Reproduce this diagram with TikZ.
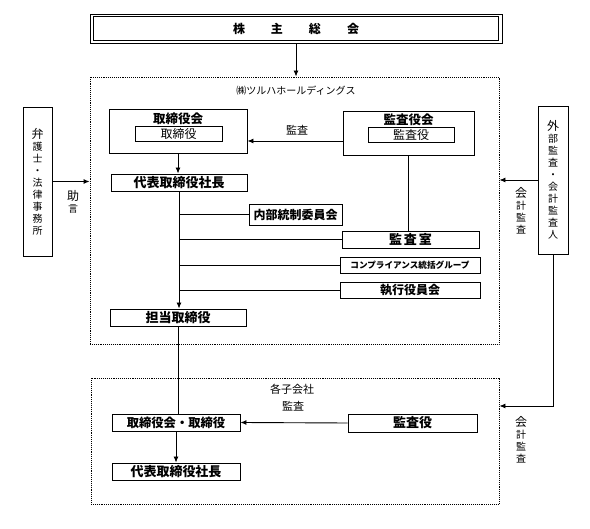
\documentclass[tikz,border=0pt]{standalone}
\usepackage{fontspec}
\usetikzlibrary{arrows.meta}
\newfontfamily\jp{Noto Sans CJK JP}
\newcommand{\fs}[1]{\fontsize{#1}{#1}\selectfont}

\begin{document}
\begin{tikzpicture}[x=1pt,y=-1pt,
  box/.style={draw,line width=0.9pt,inner sep=0pt,font=\jp\bfseries},
  ttl/.style={inner sep=0pt,font=\jp\bfseries},
  lbl/.style={inner sep=0pt,font=\jp,align=center},
  grp/.style={draw,densely dotted,line width=0.9pt,inner sep=0pt},
  arr/.style={draw,line width=0.9pt,-{Latex[length=6pt,width=5pt]}},
  ln/.style={draw,line width=0.9pt}]

  \useasboundingbox (0,0) rectangle (590,529);

  \begin{scope}[every node/.style={grp}]
    \node[minimum width=409,minimum height=267] (hd)  at (294.5,210.5) {};
    \node[minimum width=408,minimum height=126] (sub) at (295,441) {};
  \end{scope}

  \begin{scope}[every node/.style={box}]
    \node[minimum width=412,minimum height=29] (soukai) at (296,28.5)
      {\fs{12}株\hspace{26pt}主\hspace{26pt}総\hspace{26pt}会};

    \node[font=\jp,align=center,minimum width=29,minimum height=149] (bengo) at (37.5,181.5)
      {\fontsize{12}{13}\selectfont 弁\\護\\士\\・\\法\\律\\事\\務\\所};
    \node[font=\jp,align=center,minimum width=30,minimum height=148] (ext) at (553,180)
      {\fontsize{12}{13}\selectfont 外\\部\\監\\査\\・\\会\\計\\監\\査\\人};

    \node[minimum width=138,minimum height=44] (tbk) at (178,131) {};
    \node[font=\jp,minimum width=87,minimum height=15] (tb) at (178.5,133.5) {\fs{12}取締役};
    \node[minimum width=131,minimum height=44] (kyk) at (408.5,133) {};
    \node[font=\jp,minimum width=86,minimum height=15] (ky) at (411,134.5) {\fs{12}監査役};

    \node[minimum width=136,minimum height=17] (daihyo) at (179,182.5) {\fs{13}代表取締役社長};
    \node[minimum width=93,minimum height=21]  (naibu)  at (295.5,214.5) {\fs{12}内部統制委員会};
    \node[minimum width=137,minimum height=17] (kss)    at (410.5,239.5) {\fs{13}監\hspace{2pt}査\hspace{2pt}室};
    \node[minimum width=140,minimum height=16] (comp)   at (410,265) {\fs{8.6}コンプライアンス統括グループ};
    \node[minimum width=140,minimum height=16] (shikko) at (410,290) {\fs{12}執行役員会};
    \node[minimum width=136,minimum height=17] (tantou) at (178,317.5) {\fs{13}担当取締役};

    \node[minimum width=128,minimum height=17] (stb) at (176,422.5) {\fs{12.3}取締役会・取締役};
    \node[minimum width=129,minimum height=18] (sks) at (412.5,423) {\fs{13}監査役};
    \node[minimum width=128,minimum height=17] (sdh) at (176,471.5) {\fs{13}代表取締役社長};
  \end{scope}

  \draw[line width=0.9pt] ([shift={(4pt,-3pt)}]soukai.north west) rectangle ([shift={(-4pt,3pt)}]soukai.south east);

  \node[ttl] (tbkt) at (178,119) {\fs{12.5}取締役会};
  \node[ttl] (kykt) at (408.5,120) {\fs{12.5}監査役会};

  \node[lbl] (hdname)  at (296,91)  {\fs{10}㈱ツルハホールディングス};
  \node[lbl] (subname) at (292,389) {\fs{11}各子会社};
  \node[lbl] (kansa1)  at (297,130) {\fs{11}監査};
  \node[lbl] (kansa2)  at (293,406) {\fs{11}監査};
  \node[lbl] (jogen)   at (73,202)  {\fontsize{12}{13}\selectfont 助\\言};
  \node[lbl] (kaikei1) at (521,211) {\fontsize{12}{13}\selectfont 会\\計\\監\\査};
  \node[lbl] (kaikei2) at (521,440) {\fontsize{12}{13}\selectfont 会\\計\\監\\査};

  \coordinate (kk) at ([yshift=35pt]sub.east);

  \path[arr] (soukai.south) -- (soukai.south |- hd.north);
  \path[arr] (bengo.east) -- (bengo.east -| hd.west);
  \path[arr] (ext.west) -- (ext.west -| hd.east);
  \path[arr] (ext.south) |- (kk);

  \path[arr] ([yshift=-8pt]kyk.west) -- ([yshift=-8pt]kyk.west -| tbk.east);
  \path[arr] (tbk.south) -- (tbk.south |- daihyo.north);
  \path[arr] (daihyo.south) -- (daihyo.south |- tantou.north);
  \path[ln] (kyk.south) -- (kyk.south |- kss.north);

  \path[ln] (daihyo.south |- naibu.west)  -- (naibu.west);
  \path[ln] (daihyo.south |- kss.west)    -- (kss.west);
  \path[ln] (daihyo.south |- comp.west)   -- (comp.west);
  \path[ln] (daihyo.south |- shikko.west) -- (shikko.west);

  \path[ln] (tantou.south) -- (tantou.south |- stb.north);
  \path[arr] (sks.west) -- (stb.east);
  \path[arr] (stb.south) -- (sdh.north);

\end{tikzpicture}
\end{document}
